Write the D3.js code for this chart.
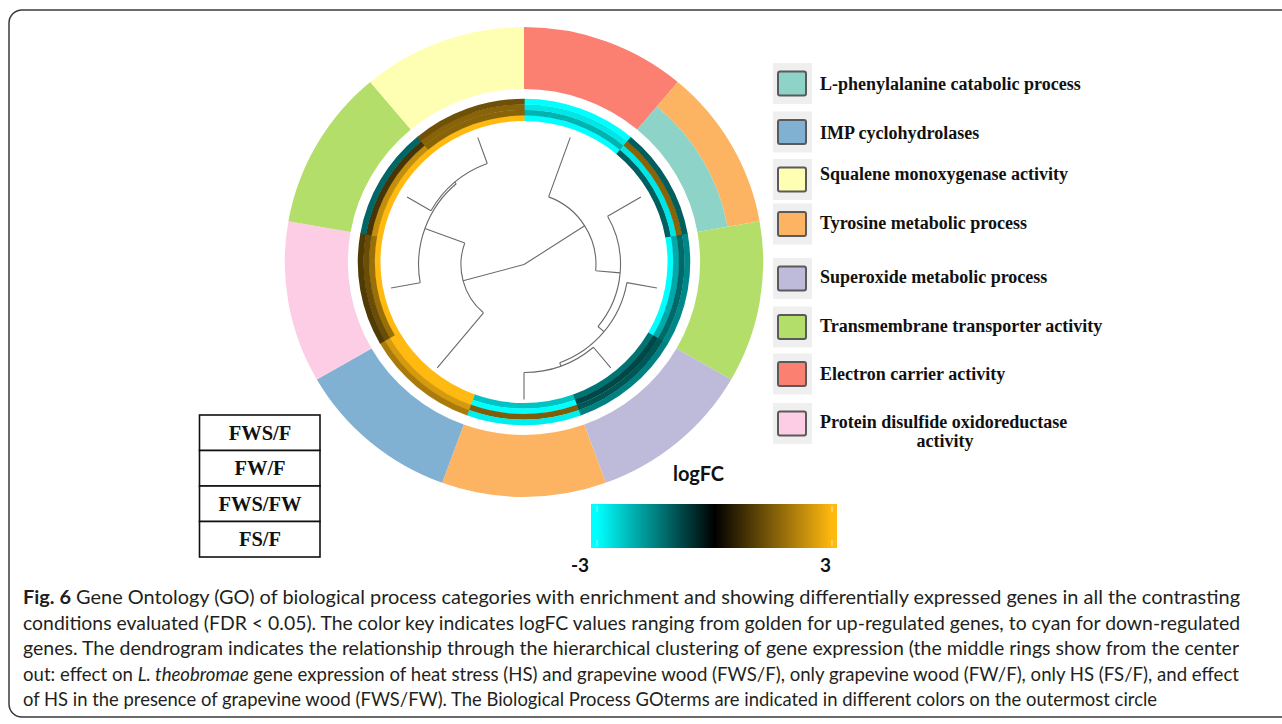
<!DOCTYPE html>
<html>
<head>
<meta charset="utf-8">
<script src="https://cdn.jsdelivr.net/npm/d3@7"></script>
<style>
  html, body { margin: 0; padding: 0; background: #fff; }
  svg { display: block; }
</style>
</head>
<body>
<script>
// ---------- data ----------
// GO term of each gene segment, clockwise from 12 o'clock (outer band of the outer ring)
const segmentTerms = [
  "Electron carrier activity",
  "Tyrosine metabolic process",
  "Transmembrane transporter activity",
  "Superoxide metabolic process",
  "Tyrosine metabolic process",
  "IMP cyclohydrolases",
  "Protein disulfide oxidoreductase activity",
  "Transmembrane transporter activity",
  "Squalene monoxygenase activity"
];
// second GO term shown in the inner band of a segment (null = none)
const segmentSecondTerms = [null, "L-phenylalanine catabolic process", null, null, null, null, null, null, null];

// heat-map rings, from the centre outwards
const contrasts = ["FWS/F", "FW/F", "FS/F", "FWS/FW"];
const logFC_FWS_F  = [-3.0, -1.1, -3.0, -1.35, -2.3, 3.0, 3.0, 3.0, 3.0];
const logFC_FW_F   = [-2.1, -2.7, -2.0, -0.85, -3.0, 3.0, 1.8, 2.3, 1.6];
const logFC_FS_F   = [-2.7,  1.6, -1.25, -1.0,  1.5, 2.5, 1.25, 0.85, 1.6];
const logFC_FWS_FW = [-3.0, -1.1, -1.6, -1.5, -2.8, 2.0, 0.95, -1.2, 1.3];
const logFCByContrast = [logFC_FWS_F, logFC_FW_F, logFC_FS_F, logFC_FWS_FW];

// hierarchical clustering of the genes (leaf = segment index, h = merge height)
const clusterTree = { h: 1.0, children: [
  { h: 0.533, children: [
    { leaf: 5 },
    { h: 0.219, children: [
      { leaf: 6 },
      { h: 0.204, children: [ { leaf: 7 }, { leaf: 8 } ] }
    ] }
  ] },
  { h: 0.467, children: [
    { leaf: 0 },
    { h: 0.285, children: [
      { leaf: 1 },
      { h: 0.226, children: [
        { leaf: 2 },
        { h: 0.200, children: [ { leaf: 3 }, { leaf: 4 } ] }
      ] }
    ] }
  ] }
] };

// legend entries in display order
const legendTerms = [
  "L-phenylalanine catabolic process",
  "IMP cyclohydrolases",
  "Squalene monoxygenase activity",
  "Tyrosine metabolic process",
  "Superoxide metabolic process",
  "Transmembrane transporter activity",
  "Electron carrier activity",
  "Protein disulfide oxidoreductase activity"
];
const termColors = ["#8dd3c7", "#80b1d3", "#ffffb3", "#fdb462", "#bebada", "#b3de69", "#fb8072", "#fccde5"];

// contrast table, top to bottom
const tableLabels = ["FWS/F", "FW/F", "FWS/FW", "FS/F"];

// colour key
const keyDomain = [-3, 0, 3];
const keyColors = ["#00ffff", "#000000", "#ffb90f"];
const keyTicks = [-3, 3];

const captionLines = [
  [{ t: "Fig. 6", b: true }, { t: " Gene Ontology (GO) of biological process categories with enrichment and showing differentially expressed genes in all the contrasting" }],
  [{ t: "conditions evaluated (FDR < 0.05). The color key indicates logFC values ranging from golden for up-regulated genes, to cyan for down-regulated" }],
  [{ t: "genes. The dendrogram indicates the relationship through the hierarchical clustering of gene expression (the middle rings show from the center" }],
  [{ t: "out: effect on " }, { t: "L. theobromae", i: true }, { t: " gene expression of heat stress (HS) and grapevine wood (FWS/F), only grapevine wood (FW/F), only HS (FS/F), and effect" }],
  [{ t: "of HS in the presence of grapevine wood (FWS/FW). The Biological Process GOterms are indicated in different colors on the outermost circle" }]
];

// ---------- drawing ----------
const W = 1282, H = 724;
const svg = d3.select("body").append("svg").attr("width", W).attr("height", H);

// figure frame
svg.append("rect")
  .attr("x", 9).attr("y", 10).attr("width", 1300).attr("height", 707)
  .attr("rx", 13).attr("ry", 13)
  .attr("fill", "none").attr("stroke", "#3a3a3a").attr("stroke-width", 1.5);

const termColor = d3.scaleOrdinal().domain(legendTerms).range(termColors);
const heat = d3.scaleLinear().domain(keyDomain).range(keyColors).clamp(true);

const angle = d3.scaleBand().domain(d3.range(segmentTerms.length)).range([0, 2 * Math.PI]);
const bw = angle.bandwidth();

// ----- rings -----
const rings = svg.append("g").attr("transform", "translate(524,262) scale(1.018,1)");

const outerR0 = 173, outerSplit = 203, outerR1 = 235;
segmentTerms.forEach((term, i) => {
  const second = segmentSecondTerms[i];
  const a0 = angle(i), a1 = a0 + bw;
  rings.append("path")
    .attr("d", d3.arc()({ innerRadius: second ? outerSplit : outerR0, outerRadius: outerR1, startAngle: a0, endAngle: a1 }))
    .attr("fill", termColor(term));
  if (second) {
    rings.append("path")
      .attr("d", d3.arc()({ innerRadius: outerR0, outerRadius: outerSplit, startAngle: a0, endAngle: a1 }))
      .attr("fill", termColor(second));
  }
});

const heatR0 = 141, ringW = 5.5;
contrasts.forEach((c, k) => {
  logFCByContrast[k].forEach((v, i) => {
    rings.append("path")
      .attr("d", d3.arc()({
        innerRadius: heatR0 + k * ringW,
        outerRadius: heatR0 + (k + 1) * ringW + 0.3,
        startAngle: angle(i), endAngle: angle(i) + bw + 0.004
      }))
      .attr("fill", heat(v));
  });
});

// ----- dendrogram -----
const dendro = svg.append("g").attr("transform", "translate(524,264.5)");
const radius = d3.scaleLinear().domain([clusterTree.h, 0]).range([0, 135]);

function place(node) {
  if (node.leaf !== undefined) {
    node.a = angle(node.leaf) + bw / 2;
    node.r = radius(0);
  } else {
    node.children.forEach(place);
    node.a = d3.mean(node.children, d => d.a);
    node.r = radius(node.h);
  }
}
place(clusterTree);

const pt = (r, a) => [r * Math.sin(a), -r * Math.cos(a)];
const branches = d3.path();
(function drawNode(node) {
  if (!node.children) return;
  const as = node.children.map(d => d.a);
  const aMin = d3.min(as), aMax = d3.max(as);
  if (node.r > 0) {
    const [sx, sy] = pt(node.r, aMin);
    branches.moveTo(sx, sy);
    branches.arc(0, 0, node.r, aMin - Math.PI / 2, aMax - Math.PI / 2, false);
  }
  node.children.forEach(ch => {
    const [x0, y0] = pt(node.r, ch.a);
    const [x1, y1] = pt(ch.r, ch.a);
    branches.moveTo(x0, y0);
    branches.lineTo(x1, y1);
    drawNode(ch);
  });
})(clusterTree);

dendro.append("path")
  .attr("d", branches.toString())
  .attr("fill", "none")
  .attr("stroke", "#6a6a6a")
  .attr("stroke-width", 1.1);

// ----- legend -----
const legendBoxTop = [63, 111.5, 159, 203.5, 258, 306.5, 353.5, 403];
const legendBaseline = [90, 138.5, 180, 228.5, 283, 332, 380, 428];
const legendFont = "'Liberation Serif', 'DejaVu Serif', serif";
const legend = svg.append("g");
legendTerms.forEach((term, i) => {
  const y = legendBoxTop[i];
  legend.append("rect").attr("x", 773).attr("y", y).attr("width", 39).attr("height", 41).attr("fill", "#efefef");
  legend.append("rect").attr("x", 778).attr("y", y + 8.5).attr("width", 28).attr("height", 24).attr("rx", 2)
    .attr("fill", termColor(term)).attr("stroke", "#5a5a5a").attr("stroke-width", 2);
  const words = term === "Protein disulfide oxidoreductase activity"
    ? ["Protein disulfide oxidoreductase", "activity"] : [term];
  words.forEach((w, j) => {
    legend.append("text")
      .attr("x", j === 0 ? 820 : 945)
      .attr("y", legendBaseline[i] + j * 19)
      .attr("text-anchor", j === 0 ? "start" : "middle")
      .attr("font-family", legendFont)
      .attr("font-weight", "bold")
      .attr("font-size", 18)
      .attr("fill", "#111")
      .text(w);
  });
});

// ----- contrast table -----
const table = svg.append("g");
const tY = d3.scaleBand().domain(tableLabels).range([415, 557]);
tableLabels.forEach(lab => {
  table.append("rect").attr("x", 199.5).attr("y", tY(lab)).attr("width", 120.5).attr("height", tY.bandwidth())
    .attr("fill", "#fff").attr("stroke", "#111").attr("stroke-width", 1.6);
  table.append("text")
    .attr("x", 260).attr("y", tY(lab) + tY.bandwidth() / 2 + 7)
    .attr("text-anchor", "middle")
    .attr("font-family", legendFont)
    .attr("font-weight", "bold").attr("font-size", 20.5).attr("fill", "#111")
    .text(lab);
});

// ----- colour key -----
const kx = d3.scaleLinear().domain([-3, 3]).range([597, 832]);
const defs = svg.append("defs");
const grad = defs.append("linearGradient").attr("id", "keyGrad")
  .attr("gradientUnits", "userSpaceOnUse")
  .attr("x1", kx(-3)).attr("x2", kx(3)).attr("y1", 0).attr("y2", 0);
d3.range(0, 1.0001, 0.05).forEach(t => {
  const v = -3 + 6 * t;
  grad.append("stop").attr("offset", t).attr("stop-color", heat(v));
});
svg.append("rect").attr("x", 591).attr("y", 504).attr("width", 246).attr("height", 44)
  .attr("fill", "url(#keyGrad)");
keyTicks.forEach(v => {
  svg.append("line").attr("x1", kx(v)).attr("x2", kx(v)).attr("y1", 506).attr("y2", 512)
    .attr("stroke", "#fff").attr("stroke-opacity", 0.6).attr("stroke-width", 1);
  svg.append("line").attr("x1", kx(v)).attr("x2", kx(v)).attr("y1", 540).attr("y2", 546)
    .attr("stroke", "#fff").attr("stroke-opacity", 0.6).attr("stroke-width", 1);
  svg.append("text")
    .attr("x", v < 0 ? kx(v) - 8 : kx(v) - 1)
    .attr("y", 572)
    .attr("text-anchor", "end")
    .attr("font-family", "Lato, 'Open Sans', sans-serif")
    .attr("font-weight", "bold").attr("font-size", 19).attr("fill", "#111")
    .text(v);
});
svg.append("text").attr("x", 698.5).attr("y", 481)
  .attr("text-anchor", "middle")
  .attr("font-family", "Lato, 'Open Sans', sans-serif")
  .attr("font-weight", "bold").attr("font-size", 20).attr("fill", "#111")
  .text("logFC");

// ----- caption -----
const capWidths = [1217, 1217, 1216, 1216, 1134];
captionLines.forEach((parts, li) => {
  const t = svg.append("text")
    .attr("x", 23).attr("y", 604 + li * 25.5)
    .attr("font-family", "Lato, 'Open Sans', sans-serif")
    .attr("font-size", 19).attr("fill", "#231f20")
    .attr("textLength", capWidths[li])
    .attr("lengthAdjust", "spacingAndGlyphs")
    .attr("xml:space", "preserve");
  parts.forEach(p => {
    t.append("tspan")
      .attr("font-weight", p.b ? "bold" : null)
      .attr("font-style", p.i ? "italic" : null)
      .text(p.t);
  });
});
</script>
</body>
</html>
